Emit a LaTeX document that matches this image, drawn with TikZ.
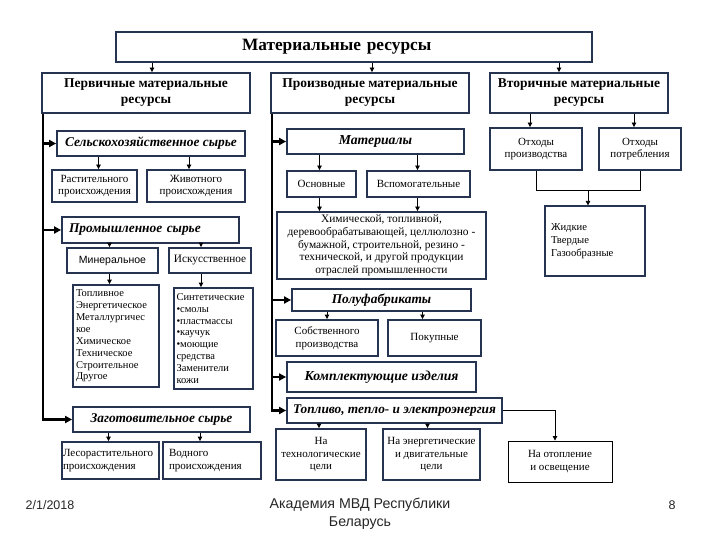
\documentclass[tikz,border=0pt]{standalone}
\usepackage{fontspec}
\setmainfont{Liberation Serif}
\newfontfamily\sansf{Liberation Sans}
\usetikzlibrary{arrows.meta,calc}
\definecolor{bc}{RGB}{38,52,82}
\tikzset{
 bx/.style={draw=bc, line width=1.8pt, fill=white, inner sep=0pt, align=center, font=\fontsize{11}{12.7}\selectfont},
 hdr/.style={bx, font=\bfseries\fontsize{13.5}{16}\selectfont},
 ttl/.style={bx, line width=2.2pt, font=\bfseries\fontsize{17.3}{19}\selectfont},
 cat/.style={bx, font=\bfseries\itshape\fontsize{13.4}{15}\selectfont},
 lst/.style={bx, align=left, font=\fontsize{10.5}{11.9}\selectfont},
 thinbx/.style={bx, draw=black, line width=0.9pt},
 arr/.style={line width=0.8pt, -{Triangle[width=4.5pt,length=4.5pt]}},
 tarr/.style={line width=2.6pt, -{Triangle[width=7pt,length=7pt]}},
 plainline/.style={line width=0.8pt},
 foot/.style={font=\sansf\fontsize{12.5}{15}\selectfont, text=black!85, align=center, inner sep=0pt},
}
\newcommand\bx[7]{\node[#6, minimum width={(#4-#2)*1pt}, minimum height={(#5-#3)*1pt}] (#1) at ({(#2+#4)/2},{(#3+#5)/2}) {#7};}
\begin{document}
\begin{tikzpicture}[x=1pt,y=-1pt]
\useasboundingbox (0,0) rectangle (720,540);
% top level
\bx{top}{116}{32}{592}{62}{ttl, text width=436pt}{\hspace*{106pt}Материальные ресурсы\hfill\null}
\bx{prim}{42}{73}{250}{113}{hdr}{Первичные материальные\\ресурсы}
\bx{der}{271}{73}{469}{113}{hdr}{Производные материальные\\ресурсы}
\bx{sec}{490}{73}{668}{113}{hdr}{Вторичные материальные\\ресурсы}
% left column
\bx{sel}{57}{131}{245}{156}{cat}{Сельскохозяйственное сырье}
\bx{rast}{52}{170}{137}{202}{bx}{Растительного\\происхождения}
\bx{zhiv}{147}{170}{245}{202}{bx}{Животного\\происхождения}
\bx{prom}{62}{217}{239}{243}{cat, text width=163pt, align=left}{Промышленное сырье}
\bx{min}{67}{248}{158}{273}{bx, font=\sansf\fontsize{10.5}{12}\selectfont}{Минеральное}
\bx{isk}{169}{248}{251}{273}{bx, font=\fontsize{11.3}{12.7}\selectfont}{Искусственное}
\bx{topl}{73}{285}{159}{387}{lst, text width=80pt}{Топливное\\Энергетическое\\Металлургичес\\кое\\Химическое\\Техническое\\Строительное\\Другое}
\bx{sint}{174}{288}{253}{389}{lst, text width=74pt}{Синтетические\\•смолы\\•пластмассы\\•каучук\\•моющие\\средства\\Заменители\\кожи}
\bx{zag}{73}{407}{250}{432}{cat}{Заготовительное сырье}
\bx{les}{62}{442}{159}{479}{bx, align=left, text width=95pt}{Лесорастительного\\происхождения}
\bx{vod}{163}{442}{261}{479}{bx, align=left, text width=86pt}{Водного\\происхождения}
% middle column
\bx{mat}{287}{129}{464}{154}{cat, font=\bfseries\itshape\fontsize{13.7}{15}\selectfont}{Материалы}
\bx{osn}{287}{171}{356}{197}{bx}{Основные}
\bx{vsp}{367}{171}{470}{197}{bx}{Вспомогательные}
\bx{him}{277}{212}{486}{279}{bx, font=\fontsize{11.4}{12.6}\selectfont}{Химической, топливной,\\деревообрабатывающей, целлюлозно -\\бумажной, строительной, резино -\\технической, и другой продукции\\отраслей промышленности}
\bx{pol}{292}{289}{471}{311}{cat}{Полуфабрикаты}
\bx{sob}{276}{320}{378}{356}{bx}{Собственного\\производства}
\bx{pok}{388}{320}{481}{356}{bx}{Покупные}
\bx{kom}{287}{362}{476}{392}{cat, font=\bfseries\itshape\fontsize{13.7}{15}\selectfont}{Комплектующие изделия}
\bx{tep}{287}{398}{502}{423}{cat, font=\bfseries\itshape\fontsize{13.3}{15}\selectfont}{Топливо, тепло- и электроэнергия}
\bx{nat}{276}{429}{366}{480}{bx}{На\\технологические\\цели}
\bx{nae}{383}{429}{480}{480}{bx}{На энергетические\\и двигательные\\цели}
\bx{naot}{508}{441}{612}{482}{thinbx}{На отопление\\и освещение}
% right column
\bx{oprz}{490}{128}{582}{170}{bx}{Отходы\\производства}
\bx{opot}{599}{128}{681}{170}{bx}{Отходы\\потребления}
\bx{zhid}{545}{206}{645}{276}{bx, line width=1.2pt, align=left, text width=88pt, font=\fontsize{10.6}{12.7}\selectfont}{Жидкие\\Твердые\\Газообразные}
% top arrows
\draw[arr] ([xshift=6pt]prim.north |- top.south) -- ([xshift=6pt]prim.north);
\draw[arr] ([xshift=2pt]der.north |- top.south) -- ([xshift=2pt]der.north);
\draw[arr] ([xshift=-20pt]sec.north |- top.south) -- ([xshift=-20pt]sec.north);
% secondary
\draw[arr] ([xshift=-6pt]oprz.north |- sec.south) -- ([xshift=-6pt]oprz.north);
\draw[arr] ([xshift=-6pt]opot.north |- sec.south) -- ([xshift=-6pt]opot.north);
\draw[plainline] (oprz.south) -- ++(0,20) -| (opot.south);
\coordinate (J) at ($(oprz.south)!.5!(opot.south)+(0,20)$);
\draw[arr] (J) -- (J |- zhid.north);
% left trunk
\coordinate (L1) at ([xshift=2pt]prim.south west);
\draw[tarr] (L1) |- (zag.west);
\draw[tarr] (L1 |- sel.west) -- (sel.west);
\draw[tarr] (L1 |- prom.west) -- (prom.west);
\draw[arr] ([xshift=4pt]rast.north |- sel.south) -- ([xshift=4pt]rast.north);
\draw[arr] ([xshift=-7pt]zhiv.north |- sel.south) -- ([xshift=-7pt]zhiv.north);
\draw[arr] ([xshift=-3pt]min.north |- prom.south) -- ([xshift=-3pt]min.north);
\draw[arr] ([xshift=-9pt]isk.north |- prom.south) -- ([xshift=-9pt]isk.north);
\draw[arr] ([xshift=-3pt]min.south) -- ([xshift=-3pt]min.south |- topl.north);
\draw[arr] ([xshift=-9pt]isk.south) -- ([xshift=-9pt]isk.south |- sint.north);
\draw[arr] ([xshift=-2pt]les.north |- zag.south) -- ([xshift=-2pt]les.north);
\draw[arr] ([xshift=-12pt]vod.north |- zag.south) -- ([xshift=-12pt]vod.north);
% middle trunk
\coordinate (M1) at ([xshift=2pt]der.south west);
\draw[tarr] (M1) |- (tep.west);
\draw[tarr] (M1 |- mat.west) -- (mat.west);
\draw[tarr] (M1 |- pol.west) -- (pol.west);
\draw[tarr] (M1 |- kom.west) -- (kom.west);
\draw[arr] ([xshift=-2pt]osn.north |- mat.south) -- ([xshift=-2pt]osn.north);
\draw[arr] ([xshift=-1pt]vsp.north |- mat.south) -- ([xshift=-1pt]vsp.north);
\draw[arr] ([xshift=-2pt]osn.south) -- ([xshift=-2pt]osn.south |- him.north);
\draw[arr] ([xshift=-1pt]vsp.south) -- ([xshift=-1pt]vsp.south |- him.north);
\draw[arr] (sob.north |- pol.south) -- (sob.north);
\draw[arr] ([xshift=-12pt]pok.north |- pol.south) -- ([xshift=-12pt]pok.north);
\draw[arr] ([xshift=-2pt]nat.north |- tep.south) -- ([xshift=-2pt]nat.north);
\draw[arr] ([xshift=-4pt]nae.north |- tep.south) -- ([xshift=-4pt]nae.north);
\draw[arr] (tep.east) -| ([xshift=-5pt]naot.north);
% footer
\node[foot] (date) at (50,505) {2/1/2018};
\node[foot, font=\sansf\fontsize{14.2}{18}\selectfont] (acad) at (360,514) {Академия МВД Республики\\Беларусь};
\node[foot] (page) at (672,505) {8};
\end{tikzpicture}
\end{document}
